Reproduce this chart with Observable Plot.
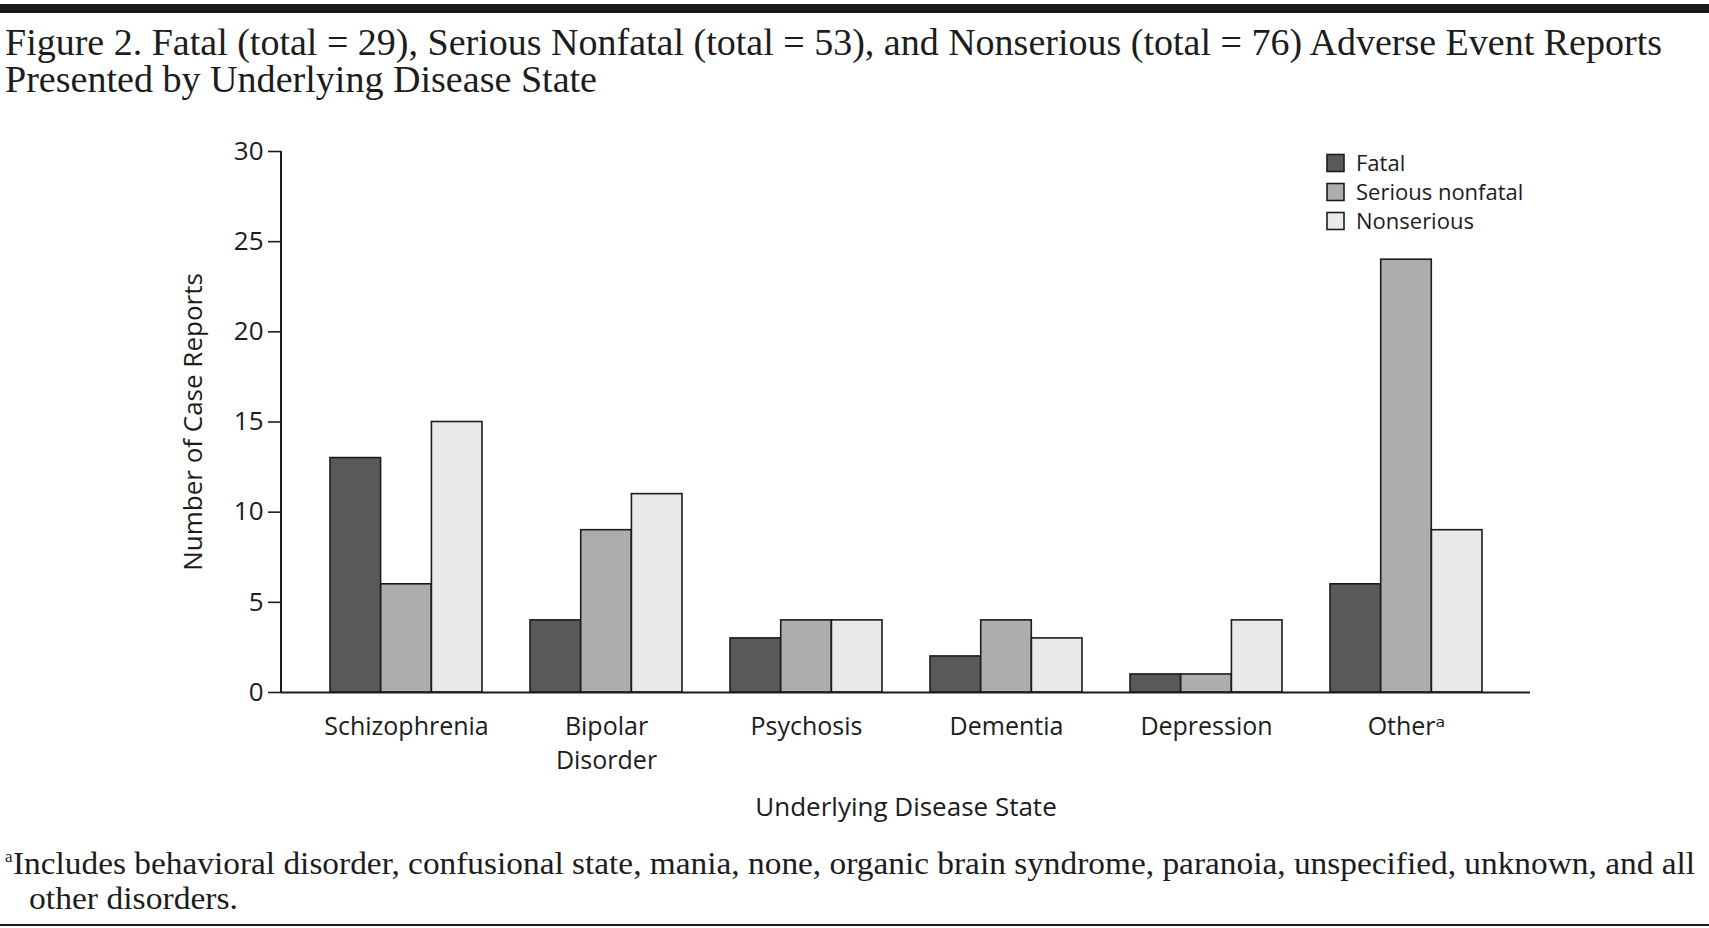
<!DOCTYPE html>
<html>
<head>
<meta charset="utf-8">
<script src="https://cdn.jsdelivr.net/npm/d3@7"></script>
<script src="https://cdn.jsdelivr.net/npm/@observablehq/plot@0.6"></script>
<style>
  html, body { margin: 0; padding: 0; background: #fff; }
  #page { position: relative; width: 1709px; height: 928px; overflow: hidden; background: #fff; }
  #chart { position: absolute; left: 0; top: 120px; }
  #overlay { position: absolute; left: 0; top: 0; pointer-events: none; }
</style>
</head>
<body>
<div id="page">
  <div id="chart"></div>
  <svg id="overlay" width="1709" height="928"></svg>
</div>
<script>
// ---- data ----
const categories = ["Schizophrenia", "Bipolar Disorder", "Psychosis", "Dementia", "Depression", "Other"];
const categoryLabels = ["Schizophrenia", "Bipolar\nDisorder", "Psychosis", "Dementia", "Depression", "Otherᵃ"];
const series = ["Fatal", "Serious nonfatal", "Nonserious"];
const fatal = [13, 4, 3, 2, 1, 6];
const seriousNonfatal = [6, 9, 4, 4, 1, 24];
const nonserious = [15, 11, 4, 3, 4, 9];
const yTicks = [0, 5, 10, 15, 20, 25, 30];
const titleLines = [
  "Figure 2. Fatal (total = 29), Serious Nonfatal (total = 53), and Nonserious (total = 76) Adverse Event Reports",
  "Presented by Underlying Disease State"
];
const footnoteLines = [
  "Includes behavioral disorder, confusional state, mania, none, organic brain syndrome, paranoia, unspecified, unknown, and all",
  "other disorders."
];
const xTitle = "Underlying Disease State";
const yTitle = "Number of Case Reports";

// ---- styles ----
const fills = ["#595959", "#adadad", "#e9e9e9"];
const ink = "#1c1c1c";
const sans = '"Open Sans", "DejaVu Sans", sans-serif';
const serif = '"Liberation Serif", "DejaVu Serif", serif';

const valuesBySeries = [fatal, seriousNonfatal, nonserious];
const rows = [];
series.forEach((s, si) => categories.forEach((c, ci) => rows.push({category: c, series: s, value: valuesBySeries[si][ci]})));
const labelOf = Object.fromEntries(categories.map((c, i) => [c, categoryLabels[i]]));

const W = 1709, H = 720;
const mL = 281, mR = 179, mT = 31, mB = 148;
const pad = 0.24;
const step = (W - mL - mR) / (categories.length - pad + 2 * pad);
const bw = step * (1 - pad);
const bar = bw / series.length;

const chart = Plot.plot({
  width: W, height: H,
  marginTop: mT, marginBottom: mB, marginLeft: mL, marginRight: mR,
  style: {fontFamily: sans, fontSize: "26px", color: ink, background: "transparent"},
  x: {domain: categories, padding: pad, axis: null},
  y: {domain: [0, 30], axis: null},
  color: {domain: series, range: fills},
  marks: [
    ...series.map((s, i) => Plot.barY(rows.filter(r => r.series === s), {
      x: "category", y: "value", fill: "series",
      stroke: ink, strokeWidth: 1.6,
      insetLeft: i * bar, insetRight: (series.length - 1 - i) * bar
    })),
    Plot.ruleY([0], {stroke: ink, strokeWidth: 2}),
    Plot.axisY({ticks: yTicks, tickSize: 13, tickPadding: 5, fontSize: 26, label: null, stroke: ink, strokeWidth: 1.6}),
    Plot.text(categories, {x: d => d, text: d => labelOf[d], frameAnchor: "bottom", lineAnchor: "top", dy: 18, lineHeight: 1.37, fontSize: 25, fill: ink}),
    Plot.text([xTitle], {frameAnchor: "bottom", lineAnchor: "middle", dy: 115, fontSize: 26, fill: ink}),
    Plot.text([yTitle], {frameAnchor: "left", textAnchor: "middle", lineAnchor: "middle", rotate: -90, dx: -88, fontSize: 26, fill: ink})
  ]
});
document.getElementById("chart").appendChild(chart);

// vertical axis line through the library's y scale
const ys = chart.scale("y");
d3.select(chart).append("line")
  .attr("x1", mL).attr("x2", mL)
  .attr("y1", ys.apply(30)).attr("y2", ys.apply(0))
  .attr("stroke", ink).attr("stroke-width", 2);

// ---- overlay: rules, title, footnote, legend ----
const ov = d3.select("#overlay");
ov.append("rect").attr("x", 0).attr("y", 4).attr("width", 1709).attr("height", 9).attr("fill", "#1a1a1a");
ov.append("rect").attr("x", 0).attr("y", 924).attr("width", 1709).attr("height", 2).attr("fill", "#1a1a1a");

ov.append("text").attr("x", 5).attr("y", 55).attr("font-family", serif).attr("font-size", 37)
  .attr("fill", ink).attr("textLength", 1657).attr("lengthAdjust", "spacingAndGlyphs").text(titleLines[0]);
ov.append("text").attr("x", 5).attr("y", 92).attr("font-family", serif).attr("font-size", 37)
  .attr("fill", ink).attr("textLength", 592).attr("lengthAdjust", "spacingAndGlyphs").text(titleLines[1]);

ov.append("text").attr("x", 5).attr("y", 862).attr("font-family", serif).attr("font-size", 17)
  .attr("fill", ink).text("a");
ov.append("text").attr("x", 13).attr("y", 874).attr("font-family", serif).attr("font-size", 31)
  .attr("fill", ink).attr("textLength", 1682).attr("lengthAdjust", "spacingAndGlyphs").text(footnoteLines[0]);
ov.append("text").attr("x", 29).attr("y", 909).attr("font-family", serif).attr("font-size", 31)
  .attr("fill", ink).attr("textLength", 209).attr("lengthAdjust", "spacingAndGlyphs").text(footnoteLines[1]);

const lg = ov.append("g");
series.forEach((s, i) => {
  const cy = 163 + i * 29;
  lg.append("rect").attr("x", 1327).attr("y", cy - 8.5).attr("width", 17).attr("height", 17)
    .attr("fill", fills[i]).attr("stroke", ink).attr("stroke-width", 1.6);
  lg.append("text").attr("x", 1356).attr("y", cy).attr("dy", "0.35em")
    .attr("font-family", sans).attr("font-size", 22).attr("fill", ink).text(s);
});
</script>
</body>
</html>
